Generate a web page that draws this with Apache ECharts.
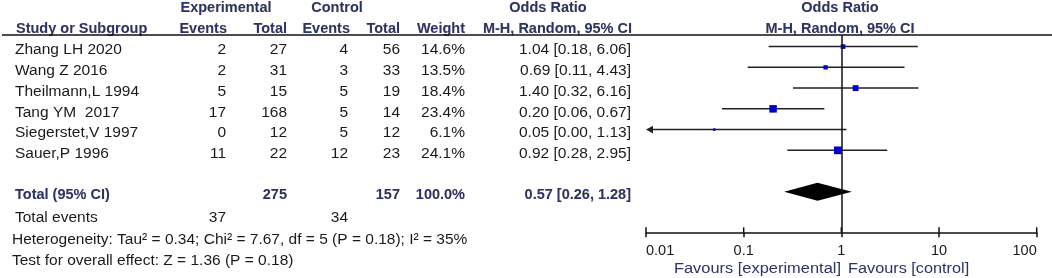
<!DOCTYPE html>
<html><head><meta charset="utf-8">
<script src="https://cdn.jsdelivr.net/npm/echarts@6/dist/echarts.min.js"></script>
<style>html,body{margin:0;padding:0;background:#fff}#c{width:1052px;height:278px}</style>
</head><body><div id="c"></div>
<script>
// ---- data ----
const studies = ['Zhang LH 2020', 'Wang Z 2016', 'Theilmann,L 1994', 'Tang YM  2017', 'Siegerstet,V 1997', 'Sauer,P 1996'];
const expEvents = [2, 2, 5, 17, 0, 11];
const expTotal = [27, 31, 15, 168, 12, 22];
const ctlEvents = [4, 3, 5, 5, 5, 12];
const ctlTotal = [56, 33, 19, 14, 12, 23];
const weights = [14.6, 13.5, 18.4, 23.4, 6.1, 24.1];
const oddsRatio = [1.04, 0.69, 1.40, 0.20, 0.05, 0.92];
const ciLow = [0.18, 0.11, 0.32, 0.06, 0.00, 0.28];
const ciHigh = [6.06, 4.43, 6.16, 0.67, 1.13, 2.95];
const totalExp = 275, totalCtl = 157, totalWeight = '100.0%';
const pooledOR = 0.57, pooledLow = 0.26, pooledHigh = 1.28;
const totalEventsExp = 37, totalEventsCtl = 34;
const heterogeneityText = 'Heterogeneity: Tau\u00b2 = 0.34; Chi\u00b2 = 7.67, df = 5 (P = 0.18); I\u00b2 = 35%';
const overallText = 'Test for overall effect: Z = 1.36 (P = 0.18)';
const tickValues = [0.01, 0.1, 1, 10, 100];
const tickLabels = ['0.01', '0.1', '1', '10', '100'];

// ---- style ----
const FONT = '15.5px "Liberation Sans", Arial, sans-serif';
const BOLD = 'bold 14.5px "Liberation Sans", Arial, sans-serif';
const TXT = '#1a1a1a';
const HEAD = '#27356a';
const SQ = '#0000c8';
const XMIN = 0.01, XMAX = 100;
const YMIN = -0.56, YMAX = 8.95;
const COL = { expE: 227, expT: 287, ctlE: 348, ctlT: 400, w: 465, or: 631 };
const TY = 3.5;

function fmt(v) { return v.toFixed(2); }
function ciText(o, l, h) { return fmt(o) + ' [' + fmt(l) + ', ' + fmt(h) + ']'; }

function txt(text, x, y, align, font, fill) {
  return { type: 'text', x: x, y: y, style: { text: String(text), align: align, verticalAlign: 'middle', font: font, fill: fill } };
}
function headTxt(text, x, y, align) {
  return { type: 'text', x: x, y: y, style: { text: text, align: align, verticalAlign: 'middle', font: BOLD, fill: HEAD, textShadowColor: 'rgba(230,140,40,0.35)', textShadowBlur: 1 } };
}

const chart = echarts.init(document.getElementById('c'));

const studyData = studies.map((s, i) => [oddsRatio[i] > 0 ? oddsRatio[i] : XMIN, i, ciLow[i], ciHigh[i], weights[i]]);

chart.setOption({
  animation: false,
  backgroundColor: '#fff',
  grid: { left: 646, right: 15.3, top: 35, bottom: 45.7, containLabel: false },
  xAxis: {
    type: 'log', logBase: 10, min: XMIN, max: XMAX, position: 'bottom',
    axisLine: { show: true, onZero: false, lineStyle: { color: '#111', width: 1.5 } },
    axisTick: { show: true, length: 5, lineStyle: { color: '#111', width: 1.5 } },
    axisLabel: { color: TXT, fontFamily: '"Liberation Sans", Arial, sans-serif', fontSize: 14.5, margin: 11,
      alignMinLabel: 'left', alignMaxLabel: 'right',
      formatter: (v, idx) => tickLabels[idx] },
    splitLine: { show: false }, minorTick: { show: false }
  },
  yAxis: { type: 'value', inverse: true, min: YMIN, max: YMAX, show: false },
  graphic: [
    headTxt('Experimental', 226, 8, 'center'),
    headTxt('Control', 337, 8, 'center'),
    headTxt('Odds Ratio', 548, 8, 'center'),
    headTxt('Odds Ratio', 840, 8, 'center'),
    headTxt('Study or Subgroup', 16, 28.5, 'left'),
    headTxt('Events', COL.expE, 28.5, 'right'),
    headTxt('Total', COL.expT, 28.5, 'right'),
    headTxt('Events', COL.ctlE + 2, 28.5, 'right'),
    headTxt('Total', COL.ctlT, 28.5, 'right'),
    headTxt('Weight', COL.w, 28.5, 'right'),
    headTxt('M-H, Random, 95% CI', COL.or + 1, 28.5, 'right'),
    headTxt('M-H, Random, 95% CI', 840, 28.5, 'center'),
    { type: 'line', shape: { x1: 2, y1: 35, x2: 1052, y2: 35 }, style: { stroke: '#111', lineWidth: 1.6 } },
    txt('Total events', 15, 218, 'left', FONT, TXT),
    txt(totalEventsExp, COL.expE - 1, 218, 'right', FONT, TXT),
    txt(totalEventsCtl, COL.ctlE, 218, 'right', FONT, TXT),
    txt(heterogeneityText, 12, 240, 'left', FONT, TXT),
    txt(overallText, 12, 260.5, 'left', FONT, TXT),
    { type: 'text', x: 841, y: 269, scaleX: 1.06, style: { text: 'Favours [experimental]', align: 'right', verticalAlign: 'middle', font: FONT, fill: HEAD } },
    { type: 'text', x: 848, y: 269, scaleX: 1.05, style: { text: 'Favours [control]', align: 'left', verticalAlign: 'middle', font: FONT, fill: HEAD } }
  ],
  series: [
    {
      // study table text
      type: 'custom', name: 'table', clip: false, silent: true,
      data: studies.map((s, i) => [1, i]),
      renderItem: function (params, api) {
        const i = params.dataIndex;
        const y = api.coord([1, api.value(1)])[1] + TY;
        return {
          type: 'group', children: [
            txt(studies[i], 15, y, 'left', FONT, TXT),
            txt(expEvents[i], COL.expE - 1, y, 'right', FONT, TXT),
            txt(expTotal[i], COL.expT, y, 'right', FONT, TXT),
            txt(ctlEvents[i], COL.ctlE, y, 'right', FONT, TXT),
            txt(ctlTotal[i], COL.ctlT, y, 'right', FONT, TXT),
            txt(weights[i].toFixed(1) + '%', COL.w, y, 'right', FONT, TXT),
            txt(ciText(oddsRatio[i], ciLow[i], ciHigh[i]), COL.or, y, 'right', FONT, TXT)
          ]
        };
      }
    },
    {
      // total row text
      type: 'custom', name: 'totalText', clip: false, silent: true,
      data: [[1, studies.length + 1]],
      renderItem: function (params, api) {
        const y = api.coord([1, api.value(1)])[1] + TY;
        return {
          type: 'group', children: [
            headTxt('Total (95% CI)', 15, y, 'left'),
            headTxt(String(totalExp), COL.expT, y, 'right'),
            headTxt(String(totalCtl), COL.ctlT, y, 'right'),
            headTxt(totalWeight, COL.w, y, 'right'),
            headTxt(ciText(pooledOR, pooledLow, pooledHigh), COL.or, y, 'right')
          ]
        };
      }
    },
    {
      // upward half of the axis ticks
      type: 'custom', name: 'ticksUp', clip: false, silent: true,
      data: tickValues.map(v => [v, YMAX]),
      renderItem: function (params, api) {
        const p = api.coord([api.value(0), api.value(1)]);
        return { type: 'line', shape: { x1: p[0], y1: p[1], x2: p[0], y2: p[1] - 5 }, style: { stroke: '#111', lineWidth: 1.5 } };
      }
    },
    {
      // confidence intervals + squares
      type: 'custom', name: 'studies', clip: false,
      data: studyData,
      renderItem: function (params, api) {
        const yv = api.value(1);
        const lo = api.value(2), hi = api.value(3), w = api.value(4);
        const y = api.coord([1, yv])[1];
        const clippedLo = lo < XMIN;
        const x1 = api.coord([clippedLo ? XMIN : lo, yv])[0];
        const x2 = api.coord([Math.min(hi, XMAX), yv])[0];
        const xc = api.coord([api.value(0), yv])[0];
        const s = Math.max(2.5, w * 0.32);
        const children = [
          { type: 'line', shape: { x1: clippedLo ? x1 + 4 : x1, y1: y, x2: x2, y2: y }, style: { stroke: '#222', lineWidth: 1.5 } }
        ];
        if (clippedLo) {
          children.push({ type: 'polygon', shape: { points: [[x1, y], [x1 + 7, y - 3.8], [x1 + 7, y + 3.8]] }, style: { fill: '#222' } });
        }
        children.push({ type: 'rect', shape: { x: xc - s / 2, y: y - s / 2, width: s, height: s }, style: { fill: SQ } });
        return { type: 'group', children: children };
      },
      markLine: {
        silent: true, symbol: 'none', label: { show: false },
        lineStyle: { color: '#111', width: 1.5, type: 'solid' },
        data: [{ xAxis: 1 }]
      }
    },
    {
      // pooled diamond
      type: 'custom', name: 'pooled', clip: false,
      data: [[pooledOR, studies.length + 1, pooledLow, pooledHigh]],
      renderItem: function (params, api) {
        const yv = api.value(1);
        const y = api.coord([1, yv])[1];
        const xl = api.coord([api.value(2), yv])[0];
        const xr = api.coord([api.value(3), yv])[0];
        const xc = api.coord([api.value(0), yv])[0];
        return { type: 'polygon', shape: { points: [[xl, y], [xc, y - 9], [xr, y], [xc, y + 9]] }, style: { fill: '#000' } };
      }
    }
  ]
});
</script>
</body></html>
